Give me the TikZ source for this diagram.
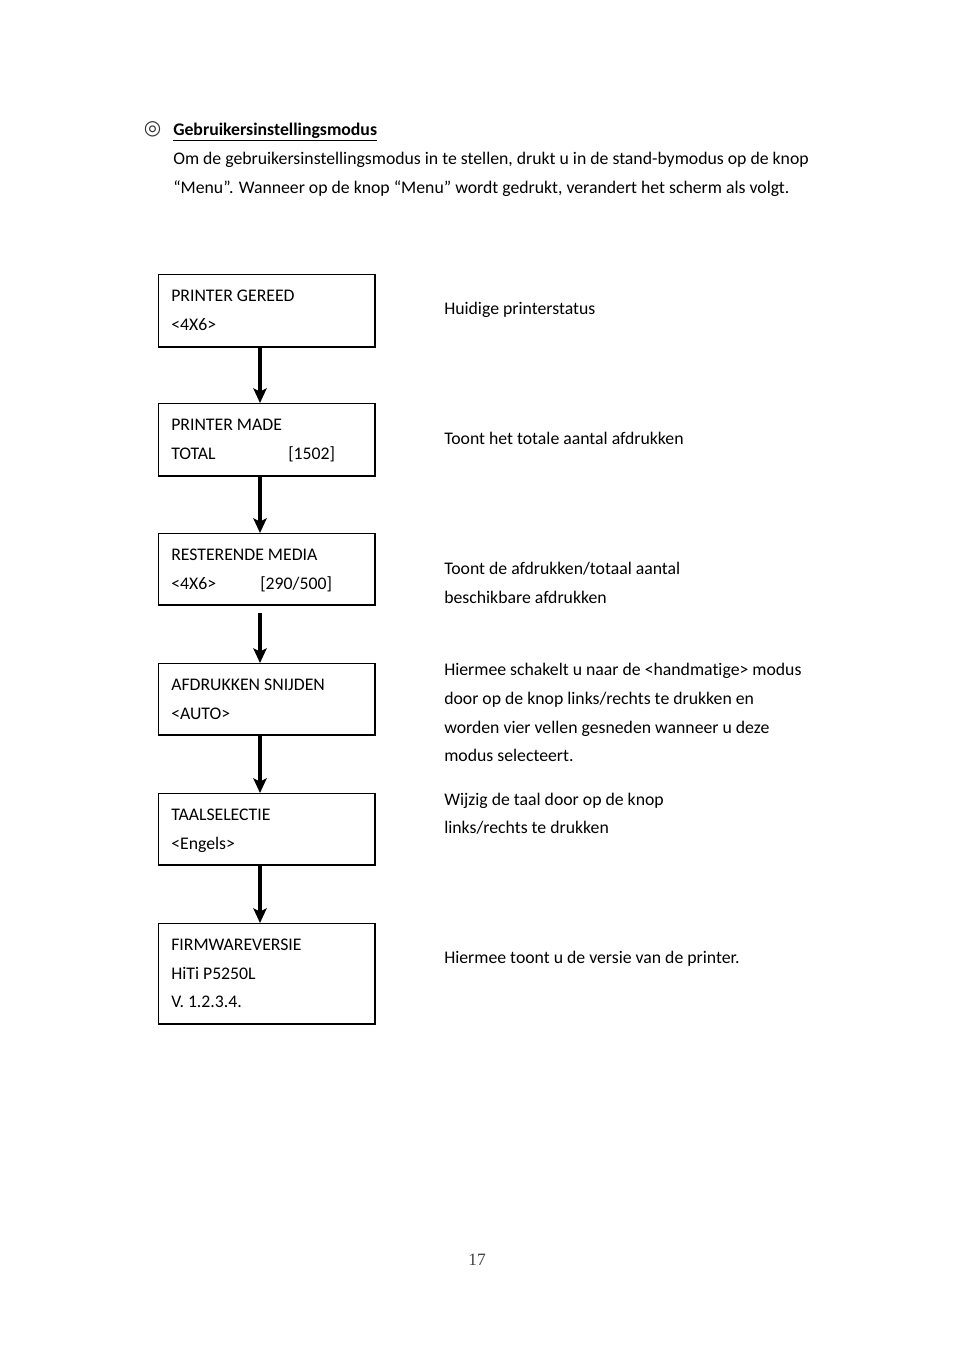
\documentclass[tikz,border=0pt]{standalone}
\usepackage{fontspec}
\setmainfont[Ligatures={NoCommon}]{Carlito}
\newfontfamily\symfont{DejaVu Sans}
\newfontfamily\pnfont{Liberation Serif}
\usetikzlibrary{arrows.meta,calc}
\begin{document}
\begin{tikzpicture}[x=0.75pt,y=-0.75pt,
  txt/.style={anchor=base west,inner sep=0pt,yshift=-0.75pt,font=\fontsize{13.3pt}{15pt}\selectfont},
  box/.style={draw,line width=0.75pt,inner sep=0pt,outer sep=0pt,minimum width=217*0.75pt},
  arr/.style={line width=3pt,-{Stealth[length=11pt,width=10pt,inset=2.5pt]}}]
\useasboundingbox (0,0) rectangle (954,1350);
% header
\node[anchor=center,inner sep=0pt,text=black!80,font=\symfont\fontsize{15pt}{17pt}\selectfont] (sym) at (152.5,129.5) {◎};
\node[txt] (title) at (173,134.5) {\underline{\textbf{Gebruikersinstellingsmodus}}};
\node[txt] (p1) at (173,163.5) {Om de gebruikersinstellingsmodus in te stellen, drukt u in de stand-bymodus op de knop};
\node[txt] (p2) at (173,192.5) {“Menu”. Wanneer op de knop “Menu” wordt gedrukt, verandert het scherm als volgt.};
% boxes
\node[box,minimum height=73*0.75pt] (b1) at (266.5,310.5) {};
\node[box,minimum height=73*0.75pt] (b2) at (266.5,439.5) {};
\node[box,minimum height=72*0.75pt] (b3) at (266.5,569) {};
\node[box,minimum height=72*0.75pt] (b4) at (266.5,699) {};
\node[box,minimum height=72*0.75pt] (b5) at (266.5,829) {};
\node[box,minimum height=101*0.75pt] (b6) at (266.5,973.5) {};
\foreach \n in {b1,b2,b3,b4,b5,b6}
  \draw[line width=1.6pt] (\n.north east) -- (\n.south east) -- (\n.south west);
% box texts
\node[txt] (t1a) at (171,300) {PRINTER GEREED};
\node[txt] (t1b) at (171,329) {<4X6>};
\node[txt] (t2a) at (171,429.5) {PRINTER MADE};
\node[txt] (t2b) at (171,458.5) {TOTAL};
\node[txt] (t2c) at (288,458.5) {[1502]};
\node[txt] (t3a) at (171,559.5) {RESTERENDE MEDIA};
\node[txt] (t3b) at (171,588.5) {<4X6>};
\node[txt] (t3c) at (260,588.5) {[290/500]};
\node[txt] (t4a) at (171,689.5) {AFDRUKKEN SNIJDEN};
\node[txt] (t4b) at (171,718.5) {<AUTO>};
\node[txt] (t5a) at (171,819.5) {TAALSELECTIE};
\node[txt] (t5b) at (171,848.5) {<Engels>};
\node[txt] (t6a) at (171,949.5) {FIRMWAREVERSIE};
\node[txt] (t6b) at (171,978.5) {HiTi P5250L};
\node[txt] (t6c) at (171,1006.5) {V. 1.2.3.4.};
% arrows
\coordinate (ax) at (260,0);
\draw[arr] (b1.south -| ax) -- (b2.north -| ax);
\draw[arr] (b2.south -| ax) -- (b3.north -| ax);
\draw[arr] ([yshift=-6pt]b3.south -| ax) -- (b4.north -| ax);
\draw[arr] (b4.south -| ax) -- (b5.north -| ax);
\draw[arr] (b5.south -| ax) -- (b6.north -| ax);
% descriptions
\node[txt] (d1) at (444,313.5) {Huidige printerstatus};
\node[txt] (d2) at (444,443.5) {Toont het totale aantal afdrukken};
\node[txt] (d3a) at (444,573.5) {Toont de afdrukken/totaal aantal};
\node[txt] (d3b) at (444,602.5) {beschikbare afdrukken};
\node[txt] (d4a) at (444,674.5) {Hiermee schakelt u naar de <handmatige> modus};
\node[txt] (d4b) at (444,703.5) {door op de knop links/rechts te drukken en};
\node[txt] (d4c) at (444,732.5) {worden vier vellen gesneden wanneer u deze};
\node[txt] (d4d) at (444,760.5) {modus selecteert.};
\node[txt] (d5a) at (444,804.5) {Wijzig de taal door op de knop};
\node[txt] (d5b) at (444,832.5) {links/rechts te drukken};
\node[txt] (d6) at (444,962.5) {Hiermee toont u de versie van de printer.};
% page number
\node[anchor=base,inner sep=0pt,text=black!75,font=\pnfont\fontsize{13pt}{15pt}\selectfont] (pn) at (477,1265) {17};
\end{tikzpicture}
\end{document}
